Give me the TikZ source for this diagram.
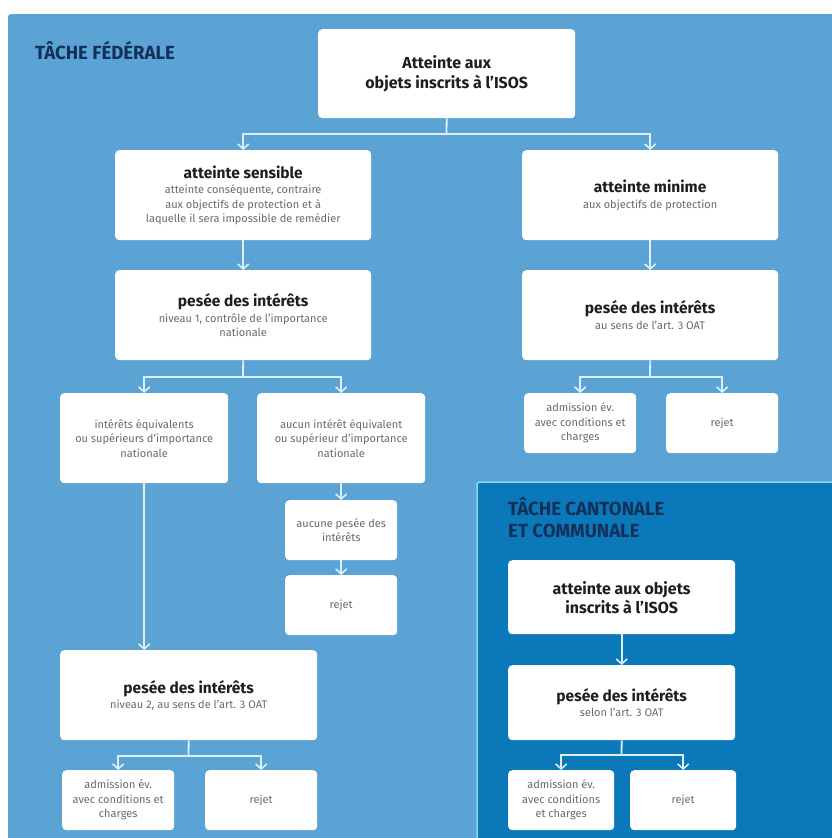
\documentclass[tikz,border=0pt]{standalone}
\usepackage{fontspec}
\setmainfont{Fira Sans}
\newfontfamily\headfont[FakeStretch=0.98]{Fira Sans}
\usetikzlibrary{arrows.meta}
\definecolor{bgblue}{HTML}{5BA3D4}
\definecolor{darkpanel}{HTML}{0A78B9}
\definecolor{panelborder}{HTML}{8AD6F2}
\definecolor{navy}{HTML}{12305A}
\definecolor{lineblue}{HTML}{DCF0FB}
\definecolor{txtdark}{HTML}{1E1E1E}
\definecolor{txtgray}{HTML}{6A6A6A}
\newcommand\bt[1]{{\color{txtdark}\bfseries\fontsize{15.5}{17}\selectfont #1}}
\tikzset{
  box/.style={fill=white, rounded corners=4pt, inner sep=2pt, align=center,
    text=txtgray, font=\fontsize{11}{14.5}\selectfont, anchor=north west},
  bigbox/.style={box, minimum width=256pt, minimum height=90pt},
  midbox/.style={box, minimum width=168pt, minimum height=90pt},
  smallbox/.style={box, minimum width=112pt, minimum height=60pt},
  headtitle/.style={anchor=north west, align=left, text=navy,
    font=\headfont\bfseries\fontsize{19}{22}\selectfont, inner sep=0pt},
  conn/.style={draw=lineblue, line width=1.8pt},
  arr/.style={conn, -{Straight Barb[length=5pt,width=11pt,line width=1.6pt]}}
}
\begin{document}
\begin{tikzpicture}[x=1pt,y=-1pt]
\useasboundingbox (0,0) rectangle (832,838);
\fill[white] (0,0) rectangle (832,838);
\fill[bgblue, rounded corners=3pt] (8,14) rectangle (850,850);
\filldraw[fill=darkpanel, draw=panelborder, line width=1.5pt, rounded corners=3pt] (477,482) rectangle (850,850);

\node[headtitle] (t1) at (35,41) {TÂCHE FÉDÉRALE};
\node[headtitle] (t2) at (508,497) {TÂCHE CANTONALE\\ET COMMUNALE};

% federal boxes
\node[bigbox, minimum width=257pt, minimum height=89pt, text=txtdark,
  font=\bfseries\fontsize{16}{19.5}\selectfont] (A) at (318,29) {Atteinte aux\\objets inscrits à l'ISOS};
\node[bigbox] (B) at (115,150) {\bt{atteinte sensible}\\[1pt]atteinte conséquente, contraire\\aux objectifs de protection et à\\laquelle il sera impossible de remédier};
\node[bigbox] (C) at (522,150) {\bt{atteinte minime}\\[1pt]aux objectifs de protection};
\node[bigbox] (D) at (115,270) {\bt{pesée des intérêts}\\[1pt]niveau 1, contrôle de l'importance\\nationale};
\node[bigbox] (E) at (522,270) {\bt{pesée des intérêts}\\[1pt]au sens de l'art. 3 OAT};
\node[smallbox] (F) at (524,393) {admission év.\\avec conditions et\\charges};
\node[smallbox] (G) at (666,393) {rejet};
\node[midbox] (H) at (60,393) {intérêts équivalents\\ou supérieurs d'importance\\nationale};
\node[midbox] (I) at (257,393) {aucun intérêt équivalent\\ou supérieur d'importance\\nationale};
\node[smallbox] (J) at (285,500) {aucune pesée des\\intérêts};
\node[smallbox] (K) at (285,575) {rejet};
\node[bigbox, minimum width=257pt] (L) at (60,650) {\bt{pesée des intérêts}\\[1pt]niveau 2, au sens de l'art. 3 OAT};
\node[smallbox] (M) at (62,770) {admission év.\\avec conditions et\\charges};
\node[smallbox] (N) at (205,770) {rejet};

% cantonal boxes
\node[box, minimum width=227pt, minimum height=74pt, text=txtdark,
  font=\bfseries\fontsize{16}{19}\selectfont] (O) at (508,560) {atteinte aux objets\\inscrits à l'ISOS};
\node[box, minimum width=227pt, minimum height=75pt] (P) at (508,665) {\bt{pesée des intérêts}\\[1pt]selon l'art. 3 OAT};
\node[smallbox, minimum width=106pt] (Q) at (508,770) {admission év.\\avec conditions\\et charges};
\node[smallbox, minimum width=106pt] (R) at (630,770) {rejet};

% connectors
\coordinate (sA) at (446.5,134);
\draw[conn] (A.south) -- (sA);
\draw[arr] (sA) -| (B.north);
\draw[arr] (sA) -| (C.north);
\draw[arr] (B.south) -- (D.north);
\draw[arr] (C.south) -- (E.north);

\coordinate (sE) at (650,377);
\draw[conn] (E.south) -- (sE);
\draw[arr] (sE) -| (F.north);
\draw[arr] (sE) -| (G.north);

\coordinate (sD) at (243,377);
\draw[conn] (D.south) -- (sD);
\draw[arr] (sD) -| (H.north);
\draw[arr] (sD) -| (I.north);
\draw[arr] (I.south -| J.north) -- (J.north);
\draw[arr] (J.south) -- (K.north);
\draw[arr] (H.south) -- (H.south |- L.north);

\coordinate (sL) at (188.5,756);
\draw[conn] (L.south) -- (sL);
\draw[arr] (sL) -| (M.north);
\draw[arr] (sL) -| (N.north);

\draw[arr] (O.south) -- (P.north);
\coordinate (sP) at (621.5,755);
\draw[conn] (P.south) -- (sP);
\draw[arr] (sP) -| (Q.north);
\draw[arr] (sP) -| (R.north);
\end{tikzpicture}
\end{document}
